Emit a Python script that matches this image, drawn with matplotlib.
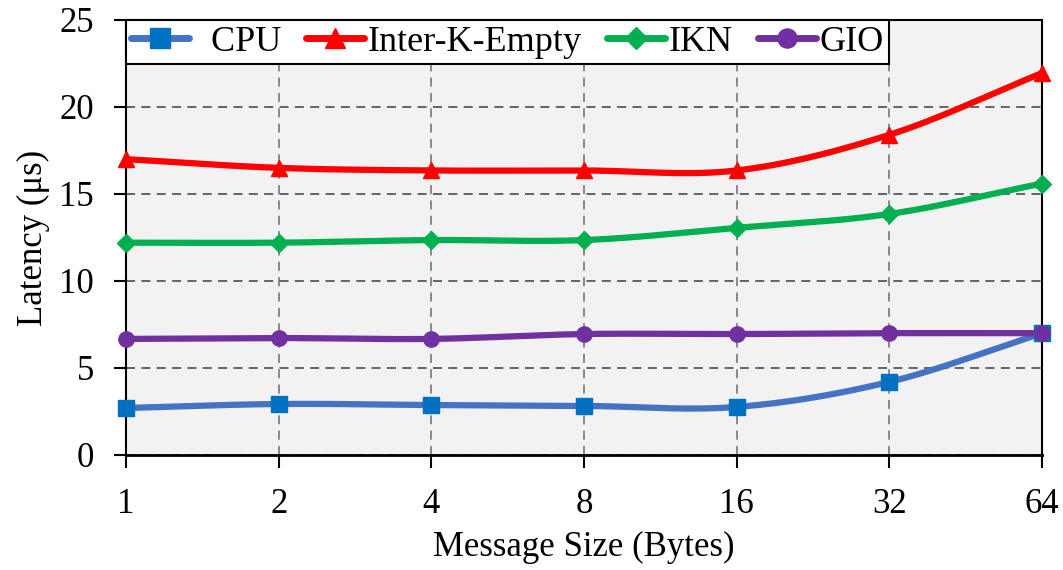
import numpy as np
import matplotlib
matplotlib.use('Agg')
import matplotlib.pyplot as plt

# data
sizes = ['1', '2', '4', '8', '16', '32', '64']
cpu = [2.7, 2.93, 2.87, 2.82, 2.76, 4.2, 7.0]
inter_k_empty = [17.0, 16.5, 16.35, 16.35, 16.35, 18.4, 21.95]
ikn = [12.2, 12.2, 12.35, 12.35, 13.05, 13.85, 15.6]
gio = [6.67, 6.72, 6.67, 6.95, 6.95, 7.0, 7.0]

plt.rcParams['font.family'] = ['Liberation Serif', 'DejaVu Serif']


def smooth(y, n=30):
    # Excel-style smoothed line (Catmull-Rom through the points)
    y = np.asarray(y, dtype=float)
    p = np.concatenate([[2 * y[0] - y[1]], y, [2 * y[-1] - y[-2]]])
    xs, ys = [], []
    for i in range(len(y) - 1):
        t = np.linspace(0, 1, n, endpoint=(i == len(y) - 2))
        p0, p1, p2, p3 = p[i], p[i + 1], p[i + 2], p[i + 3]
        c1 = p1 + (p2 - p0) / 6
        c2 = p2 - (p3 - p1) / 6
        yy = (1 - t) ** 3 * p1 + 3 * (1 - t) ** 2 * t * c1 + 3 * (1 - t) * t ** 2 * c2 + t ** 3 * p2
        xs.append(i + t)
        ys.append(yy)
    return np.concatenate(xs), np.concatenate(ys)


fig = plt.figure(figsize=(10.63, 5.7), dpi=100)
ax = fig.add_axes([0.1185, 0.2018, 0.8618, 0.7632])
ax.set_facecolor('#F2F2F2')

series = [
    ('  CPU', cpu, '#4472C4', '#0070C0', 's', 11),
    ('Inter-K-Empty', inter_k_empty, '#FF0000', '#FF0000', '^', 12),
    ('IKN', ikn, '#00B050', '#00B050', 'D', 9),
    ('GIO', gio, '#7030A0', '#7030A0', 'o', 11),
]
x = np.arange(len(sizes))
for name, vals, lc, mc, mk, ms in series:
    sx, sy = smooth(vals)
    ax.plot(sx, sy, color=lc, lw=4.5, solid_capstyle='round', zorder=3)
    ax.plot(x, vals, ls='none', marker=mk, color=mc, ms=ms, zorder=4, clip_on=False)
    ax.plot([], [], color=lc, lw=5, marker=mk, mfc=mc, mec=mc, ms=ms * 1.25,
            solid_capstyle='round', label=name)

ax.set_xlim(0, 6)
ax.set_ylim(0, 25)
ax.set_xticks(x)
ax.set_xticklabels(sizes)
ax.set_yticks(range(0, 26, 5))
ax.yaxis.grid(True, ls=(0, (5, 3.5)), color='#595959', lw=1.3)
ax.xaxis.grid(True, ls=(0, (5, 3.5)), color='#808080', lw=1.3)
ax.set_axisbelow(True)
ax.tick_params(labelsize=25, length=9, width=1.5, direction='out')
ax.tick_params(axis='x', pad=15)
ax.tick_params(axis='y', pad=14)
for s in ax.spines.values():
    s.set_linewidth(1.5)
ax.spines['bottom'].set_linewidth(2)

ax.set_xlabel('Message Size (Bytes)', fontsize=25, labelpad=7)
ax.set_ylabel('Latency (μs)', fontsize=25, labelpad=7)

leg = ax.legend(loc='upper left', ncol=4, prop={'family': 'Liberation Serif', 'size': 26},
                frameon=True, fancybox=False, edgecolor='black', framealpha=1,
                borderaxespad=0, handlelength=1.6, handletextpad=0.1,
                columnspacing=0.7, borderpad=0.15)
leg.get_frame().set_linewidth(1.5)
leg.set_zorder(5)

fig.savefig('out.png', dpi=100)
